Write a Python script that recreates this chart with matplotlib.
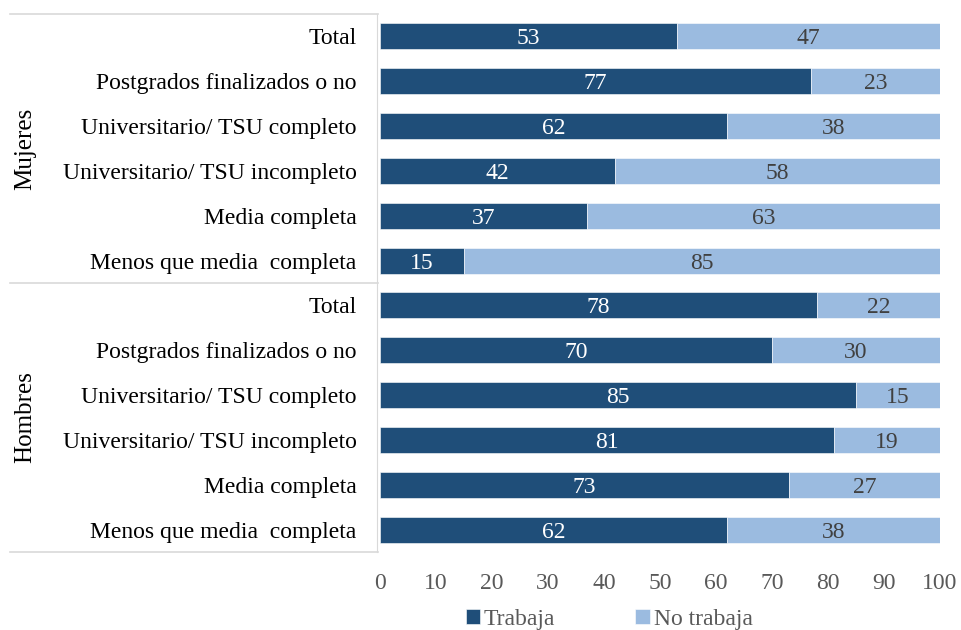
import matplotlib.pyplot as plt
import numpy as np

plt.rcParams['font.family'] = ['Liberation Serif', 'DejaVu Serif']

niveles = ['Total', 'Postgrados finalizados o no', 'Universitario/ TSU completo',
           'Universitario/ TSU incompleto', 'Media completa', 'Menos que media  completa']
grupos = ['Mujeres', 'Hombres']

trabaja_mujeres = [53, 77, 62, 42, 37, 15]
no_trabaja_mujeres = [47, 23, 38, 58, 63, 85]
trabaja_hombres = [78, 70, 85, 81, 73, 62]
no_trabaja_hombres = [22, 30, 15, 19, 27, 38]

oscuro = '#1F4E79'
claro = '#9BBBE0'
gris = '#D9D9D9'


def main():
    fig = plt.figure(figsize=(9.61, 6.30), dpi=100)
    ax = fig.add_axes([380 / 961, 1 - 552 / 630, 560 / 961, 538 / 630])

    trabaja = trabaja_mujeres + trabaja_hombres
    no_trabaja = no_trabaja_mujeres + no_trabaja_hombres
    etiquetas = niveles + niveles
    y = np.arange(len(trabaja))

    b1 = ax.barh(y, trabaja, height=0.58, color=oscuro, edgecolor='white',
                 linewidth=0.4, label='Trabaja')
    b2 = ax.barh(y, no_trabaja, left=trabaja, height=0.58, color=claro,
                 edgecolor='white', linewidth=0.4, label='No trabaja')
    for i in range(len(trabaja)):
        ax.text(trabaja[i] / 2, y[i], str(trabaja[i]), ha='center',
                va='center_baseline', color='white', fontsize=17)
        ax.text(trabaja[i] + no_trabaja[i] / 2, y[i], str(no_trabaja[i]),
                ha='center', va='center_baseline', color='#404040', fontsize=17)

    ax.set_ylim(len(trabaja) - 0.5, -0.5)
    ax.set_xlim(0, 100)
    ax.set_xticks(range(0, 101, 10))
    ax.set_yticks(y)
    ax.set_yticklabels(etiquetas)
    ax.tick_params(axis='y', length=0, pad=15, labelsize=17)
    ax.tick_params(axis='x', length=0, pad=15, labelsize=17, labelcolor='#595959')

    for s in ['top', 'right', 'bottom']:
        ax.spines[s].set_visible(False)
    ax.spines['left'].set_color(gris)
    ax.spines['left'].set_position(('outward', 2))

    # lineas que separan los dos grupos
    x0 = (10 - 380) / 560
    for yy in [0, 0.5, 1]:
        ax.plot([x0, -2 / 560], [yy, yy], transform=ax.transAxes, color=gris,
                lw=1.2, clip_on=False)

    for i, g in enumerate(grupos):
        ax.text((25 - 380) / 560, 0.75 - 0.5 * i, g, transform=ax.transAxes,
                rotation=90, ha='center', va='center', fontsize=18)

    fig.legend(handles=[b1, b2], loc='center', bbox_to_anchor=(609 / 961, 1 - 619 / 630),
               ncol=2, frameon=False, fontsize=17, handlelength=0.6, handleheight=0.6,
               handletextpad=0.17, columnspacing=3.4, labelcolor='#595959')

    fig.savefig('out.png', dpi=100)


if __name__ == '__main__':
    main()
